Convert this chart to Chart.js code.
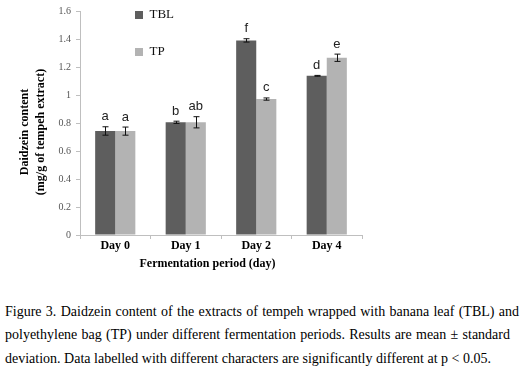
<!DOCTYPE html>
<html>
<head>
<meta charset="utf-8">
<script src="https://cdn.jsdelivr.net/npm/chart.js@4.4.1/dist/chart.umd.min.js"></script>
<style>
  html, body { margin: 0; padding: 0; background: #fff; width: 525px; height: 373px; overflow: hidden; }
  #wrap { position: absolute; left: 0; top: 0; width: 525px; height: 290px; }
  #cap { position: absolute; left: 5px; top: 300px; width: 514px; font-family: "Liberation Serif", "Times New Roman", serif; font-size: 14px; line-height: 23.3px; color: #000; }
  #cap .j { text-align: justify; text-align-last: justify; white-space: nowrap; }
</style>
</head>
<body>
<div id="wrap"><canvas id="c" width="525" height="290"></canvas></div>
<div id="cap">
  <div class="j">Figure 3. Daidzein content of the extracts of tempeh wrapped with banana leaf (TBL) and</div>
  <div class="j" style="width:505px">polyethylene bag (TP) under different fermentation periods. Results are mean ± standard</div>
  <div>deviation. Data labelled with different characters are significantly different at p &lt; 0.05.</div>
</div>
<script>
const categories = ['Day 0', 'Day 1', 'Day 2', 'Day 4'];
const seriesNames = ['TBL', 'TP'];
const tblValues = [0.743, 0.805, 1.390, 1.137];
const tpValues = [0.742, 0.805, 0.971, 1.266];
const tblErrors = [0.030, 0.008, 0.012, 0.003];
const tpErrors = [0.029, 0.040, 0.008, 0.026];
const tblLetters = ['a', 'b', 'f', 'd'];
const tpLetters = ['a', 'ab', 'c', 'e'];
const yTickLabels = ['0', '0.2', '0.4', '0.6', '0.8', '1', '1.2', '1.4', '1.6'];

const errorsBySeries = [tblErrors, tpErrors];
const lettersBySeries = [tblLetters, tpLetters];

const errorBarPlugin = {
  id: 'errorBars',
  afterDatasetsDraw(chart) {
    const ctx = chart.ctx;
    const yScale = chart.scales.y;
    chart.data.datasets.forEach((ds, di) => {
      const meta = chart.getDatasetMeta(di);
      meta.data.forEach((bar, i) => {
        const v = ds.data[i];
        const e = errorsBySeries[di][i];
        const yTop = yScale.getPixelForValue(v + e);
        const yBot = yScale.getPixelForValue(v - e);
        const x = Math.round(bar.x) + 0.5;
        ctx.save();
        ctx.strokeStyle = '#111';
        ctx.lineWidth = 1;
        ctx.beginPath();
        ctx.moveTo(x, yTop); ctx.lineTo(x, yBot);
        ctx.moveTo(x - 3, yTop); ctx.lineTo(x + 3, yTop);
        ctx.moveTo(x - 3, yBot); ctx.lineTo(x + 3, yBot);
        ctx.stroke();
        ctx.fillStyle = '#222';
        ctx.font = '13px "Liberation Sans", Arial, sans-serif';
        ctx.textAlign = 'center';
        ctx.textBaseline = 'alphabetic';
        ctx.fillText(lettersBySeries[di][i], bar.x, yTop - 6.5);
        ctx.restore();
      });
    });
  }
};

const legendPlace = {
  id: 'legendPlace',
  beforeDraw(chart) {
    const lg = chart.legend;
    if (!lg) return;
    const pad = lg.options.labels.padding;
    lg.left = 135 - pad;
    lg.right = lg.left + 80;
    lg.top = 8.5 - pad;
  }
};

new Chart(document.getElementById('c'), {
  type: 'bar',
  data: {
    labels: categories,
    datasets: [
      { label: seriesNames[0], data: tblValues, backgroundColor: '#5e5e5e', borderWidth: 0, categoryPercentage: 0.57, barPercentage: 1.0 },
      { label: seriesNames[1], data: tpValues, backgroundColor: '#b3b3b3', borderWidth: 0, categoryPercentage: 0.57, barPercentage: 1.0 }
    ]
  },
  options: {
    responsive: false,
    animation: false,
    devicePixelRatio: 1,
    layout: { padding: { top: 11, right: 163, bottom: 0, left: 0 } },
    plugins: {
      legend: {
        position: 'chartArea',
        align: 'start',
        labels: {
          boxWidth: 8,
          boxHeight: 8,
          padding: 24,
          color: '#111',
          font: { family: '"Liberation Serif", "Times New Roman", serif', size: 13 }
        }
      },
      tooltip: { enabled: false }
    },
    scales: {
      x: {
        afterFit(scale) { scale.height = 55; },
        grid: { display: true, drawOnChartArea: false, drawTicks: true, tickLength: 4, color: '#bfbfbf', offset: true },
        border: { display: true, color: '#bfbfbf' },
        ticks: {
          padding: 0,
          color: '#000',
          font: { family: '"Liberation Serif", "Times New Roman", serif', size: 12, weight: 'bold' }
        },
        title: {
          display: true,
          text: 'Fermentation period (day)         ',
          color: '#000',
          font: { family: '"Liberation Serif", "Times New Roman", serif', size: 12, weight: 'bold' },
          padding: { top: 0, bottom: 19 }
        }
      },
      y: {
        min: 0,
        max: 1.6,
        afterFit(scale) { scale.width = 80; },
        grid: { display: true, drawOnChartArea: false, drawTicks: true, tickLength: 4, color: '#bfbfbf' },
        border: { display: true, color: '#bfbfbf' },
        ticks: {
          stepSize: 0.2,
          padding: 5,
          color: '#555',
          font: { family: '"Liberation Serif", "Times New Roman", serif', size: 10 },
          callback: (val, idx) => yTickLabels[idx]
        },
        title: {
          display: true,
          text: ['Daidzein content      ', '(mg/g of tempeh extract)      '],
          color: '#000',
          font: { family: '"Liberation Serif", "Times New Roman", serif', size: 12, weight: 'bold', lineHeight: 1.333 },
          padding: { top: 17, bottom: 0 }
        }
      }
    }
  },
  plugins: [errorBarPlugin, legendPlace]
});
</script>
</body>
</html>
